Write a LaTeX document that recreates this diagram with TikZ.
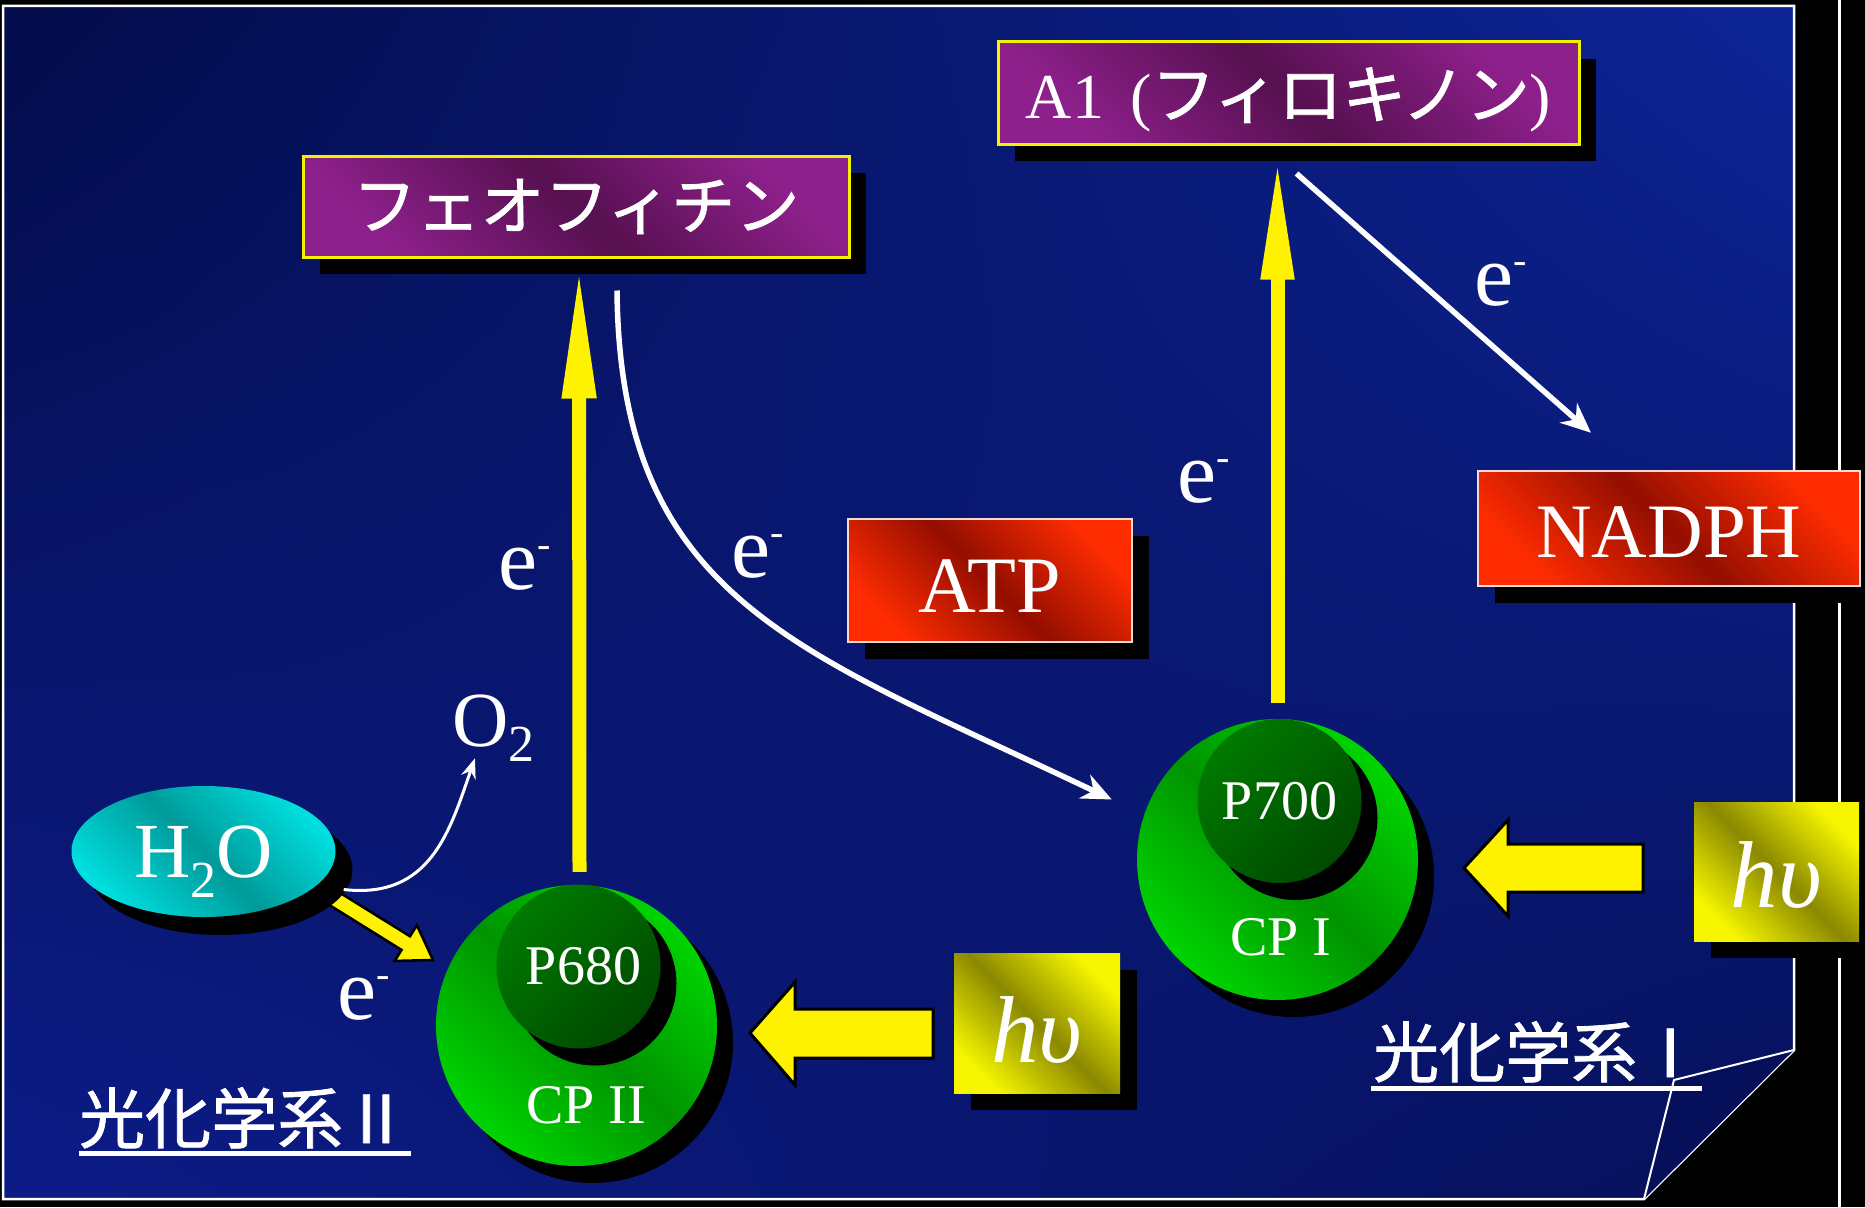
\documentclass[tikz,border=0pt]{standalone}
\usepackage{fontspec}
\setmainfont{Liberation Serif}
\newfontfamily\jpfont{Noto Sans CJK JP}[FakeBold=1.2]
\usetikzlibrary{arrows.meta,shadows,calc,shapes.geometric,shadings}
\newcommand\FS[1]{\fontsize{#1}{#1}\selectfont}
\newcommand\eminus{\FS{88}e\raisebox{32pt}{\FS{40}-}}
\definecolor{bgUL}{HTML}{040C4A}
\definecolor{bgUR}{HTML}{0C2496}
\definecolor{bgLL}{HTML}{0C1C88}
\definecolor{bgLR}{HTML}{06105A}
\definecolor{purB}{HTML}{8E208C}
\definecolor{purD}{HTML}{56104F}
\definecolor{redB}{HTML}{FF2C00}
\definecolor{redD}{HTML}{940E00}
\definecolor{yelB}{HTML}{F6F600}
\definecolor{yelD}{HTML}{8A8800}
\definecolor{grB}{HTML}{00D400}
\definecolor{grD}{HTML}{009400}
\definecolor{dgB}{HTML}{007A00}
\definecolor{dgD}{HTML}{004A00}
\definecolor{cyB}{HTML}{00DEDE}
\definecolor{cyD}{HTML}{009A9A}
\definecolor{boxYel}{HTML}{F2F200}
\definecolor{redEdge}{HTML}{F4DCD4}
\tikzset{
  sh/.style={general shadow={fill=black, shadow xshift=17pt, shadow yshift=-17pt}},
  purplebox/.style={rectangle, draw=boxYel, line width=3pt, top color=purB, bottom color=purB, middle color=purD, shading angle=-45, sh},
  redbox/.style={rectangle, draw=redEdge, line width=2.5pt, top color=redB, bottom color=redB, middle color=redD, shading angle=-45, sh},
  hvbox/.style={rectangle, top color=yelB, bottom color=yelB, middle color=yelD, shading angle=-45, sh},
  outercircle/.style={circle, minimum size=281pt, top color=grB, bottom color=grB, middle color=grD, shading angle=-45, general shadow={fill=black, shadow xshift=16pt, shadow yshift=-17pt}},
  incircle/.style={circle, minimum size=164pt, top color=dgB, bottom color=dgD, shading angle=45, general shadow={fill=black, shadow xshift=16pt, shadow yshift=-17pt}},
  yarrow/.style={draw=yellow, line width=14pt},
  blockarrow/.style={fill=yellow, draw=black, line width=3pt, line join=miter},
  warrow/.style={draw=white, line width=5.5pt, -{Stealth[length=30pt,width=26pt]}},
  thinwarrow/.style={draw=white, line width=3pt, -{Stealth[length=20pt,width=15pt]}},
  uline/.style={draw=white, line width=5pt}
}
\begin{document}
\begin{tikzpicture}[x=1pt,y=-1pt, every node/.style={inner sep=0pt, text=white}]
\useasboundingbox (0,0) rectangle (1865,1207);
% background
\fill[black] (0,0) rectangle (1865,1207);
\shade[upper left=bgUL, upper right=bgUR, lower left=bgLL, lower right=bgLR]
  (3,6) -- (1794,6) -- (1794,1050) -- (1644,1199) -- (3,1199) -- cycle;
\draw[white, line width=2.5pt] (3,6) -- (1794,6) -- (1794,1050) -- (1644,1199) -- (3,1199) -- cycle;
\fill[bgLR] (1794,1050) -- (1644,1199) -- (1674,1080) -- cycle;
\draw[white, line width=2pt] (1794,1050) -- (1674,1080) -- (1644,1199);
\draw[white, line width=3pt] (1839,0) -- (1839,1207);

% boxes
\node[purplebox, minimum width=546pt, minimum height=101pt] (feo) at (576,206.5) {\jpfont\FS{64}フェオフィチン};
\node[purplebox, minimum width=581pt, minimum height=102pt, text height=50pt, text depth=0pt] (a1) at (1288.5,93) {\FS{64}A1\hspace{26pt}({\jpfont フィロキノン})};
\node[redbox, minimum width=284pt, minimum height=123pt, text height=63pt, text depth=0pt] (atp) at (990,580.5) {\FS{80}ATP};
\node[redbox, minimum width=382pt, minimum height=115pt, text height=57pt, text depth=0pt] (nadph) at (1669,528.5) {\FS{77}NADPH};
\node[hvbox, minimum width=166pt, minimum height=140pt, text height=78pt, text depth=0pt] (hv1) at (1037,1023) {\FS{95}\itshape hυ};
\node[hvbox, minimum width=165pt, minimum height=139pt, text height=72pt, text depth=0pt] (hv2) at (1776.5,871.5) {\FS{95}\itshape hυ};

% photosystems
\node[outercircle] (cp2) at (576.5,1025.5) {};
\node[incircle] (p680) at (578.5,966.5) {\FS{56}\hspace{10pt}P680};
\node (cp2t) at (586,1105) {\FS{56}CP II};
\node[outercircle] (cp1) at (1277.5,859.5) {};
\node[incircle] (p700) at (1279.5,801) {\FS{56}P700};
\node (cp1t) at (1281,937) {\FS{56}CP I};

% yellow electron transfer arrows
\draw[yarrow, -{Triangle[length=134pt,width=31pt]}] ($(cp2.north)+(3,-13)$) -- ($(feo.south)+(3,6)$);
\draw[yarrow, -{Triangle[length=124pt,width=30pt]}] ($(cp1.north)+(0,-16)$) -- ($(a1.south -| cp1.north)+(0,10)$);

% light block arrows
\draw[blockarrow] (750,1033) -- (795,982) -- (795,1009) -- (933,1009) -- (933,1058) -- (795,1058) -- (795,1085) -- cycle;
\draw[blockarrow] (1464,868) -- (1508,820) -- (1508,844) -- (1643,844) -- (1643,892) -- (1508,892) -- (1508,916) -- cycle;

% H2O -> CP II arrow
\draw[blockarrow, line width=2.5pt] (334.2,889.2) -- (410.0,936.3) -- (416.9,925.3) -- (433,960) -- (394.7,960.9) -- (401.6,949.9) -- (325.8,902.8) -- cycle;

% water
\node[ellipse, minimum width=264pt, minimum height=131pt, top color=cyB, bottom color=cyB, middle color=cyD, shading angle=-45,
  general shadow={fill=black, shadow xshift=17pt, shadow yshift=-18pt}, text height=52pt, text depth=0pt] (h2o) at (203.5,851.5)
  {\FS{78}H\raisebox{-20pt}{\FS{52}2}O};
\node[anchor=base west] (o2) at (452,746) {\FS{78}O\raisebox{-15pt}{\FS{52}2}};
\draw[thinwarrow] ($(h2o.east)+(8,38)$) .. controls +(87,10) and +(-25,72) .. ($(o2.south west)+(23,-3)$);

% white electron arrows
\draw[warrow] ($(feo.south)+(41,32)$) .. controls +(3,311) and +(-312,-149) .. ($(cp1.west)+(-25,-60)$);
\draw[warrow] ($(a1.south)+(8,28)$) -- ($(nadph.north)+(-78,-37)$);

% electron labels
\node[anchor=base west] (e1) at (498,589) {\eminus};
\node[anchor=base west] (e2) at (731,577) {\eminus};
\node[anchor=base west] (e3) at (1177,502) {\eminus};
\node[anchor=base west] (e4) at (1474,305) {\eminus};
\node[anchor=base west] (e5) at (337,1019) {\eminus};

% photosystem labels
\node[anchor=base west] (ps2) at (79,1143) {\jpfont\FS{66}光化学系Ⅱ};
\draw[uline] (79,1153) -- (411,1153);
\node[anchor=base west] (ps1) at (1373,1077) {\jpfont\FS{66}光化学系Ⅰ};
\draw[uline] (1371,1088) -- (1702,1088);
\end{tikzpicture}
\end{document}
